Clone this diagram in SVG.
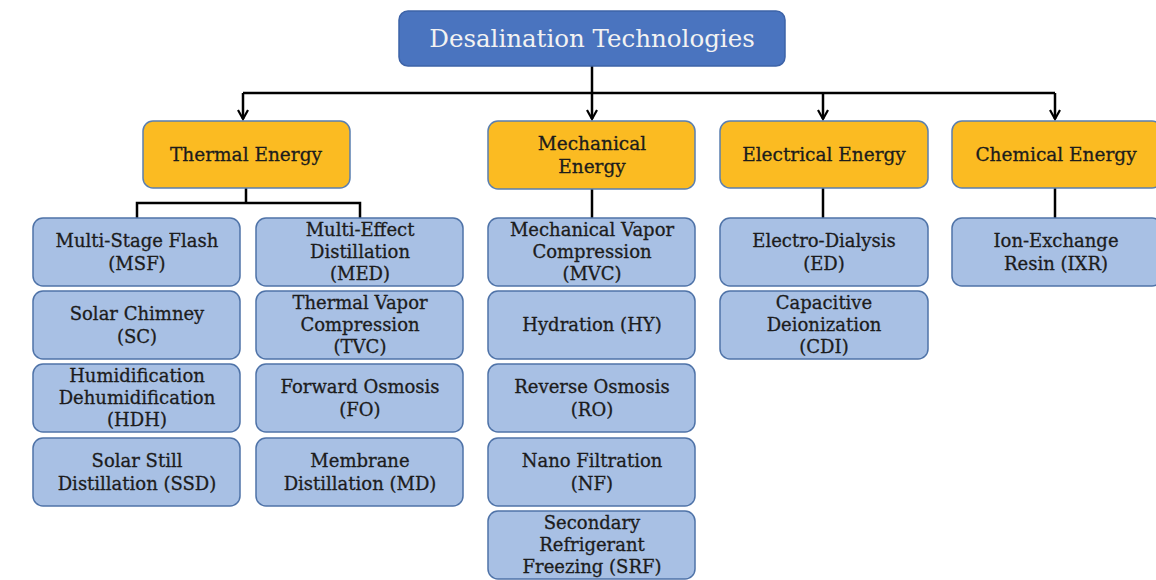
<svg xmlns="http://www.w3.org/2000/svg" width="1156" height="580" viewBox="0 0 1156 580">
<defs>
<style>
.root{fill:#4a74bf;stroke:#3d63a8;stroke-width:1.5}
.cat{fill:#fbbb22;stroke:#5a7fb0;stroke-width:1.5}
.leaf{fill:#a8c0e4;stroke:#4f73a8;stroke-width:1.5}
text{font-family:"DejaVu Serif","Liberation Serif",serif;text-anchor:middle;fill:#1c1c1c;stroke:#1c1c1c;stroke-width:0.3;font-size:18px}
.tt{fill:#f2f2f2;stroke:none;font-size:24.5px}
.ct{font-size:18.5px}
.ln{stroke:#000;stroke-width:2.5;fill:none}
</style>
<marker id="ah" markerWidth="12" markerHeight="12" refX="10" refY="6" orient="auto" markerUnits="userSpaceOnUse" viewBox="0 0 12 12">
<path d="M1,1 L10,6 L1,11" fill="none" stroke="#000" stroke-width="2.2"/>
</marker>
</defs>
<rect width="1156" height="580" fill="#fff"/>
<g id="connectors">
<path class="ln" d="M592,66 V93"/>
<path class="ln" d="M243,93 H1055"/>
<path class="ln" d="M243,93 V119" marker-end="url(#ah)"/>
<path class="ln" d="M592,93 V119" marker-end="url(#ah)"/>
<path class="ln" d="M823,93 V119" marker-end="url(#ah)"/>
<path class="ln" d="M1055,93 V119" marker-end="url(#ah)"/>
<path class="ln" d="M246,188 V203 M137,218 V203 H360 V218"/>
<path class="ln" d="M592,189 V218"/>
<path class="ln" d="M823,188 V218"/>
<path class="ln" d="M1055,188 V218"/>
</g>
<g id="root"><rect class="root" x="399" y="11" width="386" height="55" rx="9"/><text class="tt" x="592" y="47">Desalination Technologies</text></g>
<g id="thermal"><rect class="cat" x="143" y="121" width="207" height="67" rx="10"/><text class="ct" x="246" y="161">Thermal Energy</text></g>
<g id="mechanical"><rect class="cat" x="488" y="121" width="207" height="68" rx="10"/><text class="ct" x="592" y="150">Mechanical</text><text class="ct" x="592" y="173">Energy</text></g>
<g id="electrical"><rect class="cat" x="720" y="121" width="208" height="67" rx="10"/><text class="ct" x="824" y="161">Electrical Energy</text></g>
<g id="chemical"><rect class="cat" x="952" y="121" width="210" height="67" rx="10"/><text class="ct" x="1056" y="161">Chemical Energy</text></g>

<g id="msf"><rect class="leaf" x="33" y="218" width="207" height="68" rx="10"/><text x="137" y="247">Multi-Stage Flash</text><text x="137" y="270">(MSF)</text></g>
<g id="sc"><rect class="leaf" x="33" y="291" width="207" height="68" rx="10"/><text x="137" y="320">Solar Chimney</text><text x="137" y="343">(SC)</text></g>
<g id="hdh"><rect class="leaf" x="33" y="364" width="207" height="68" rx="10"/><text x="137" y="382">Humidification</text><text x="137" y="404">Dehumidification</text><text x="137" y="426">(HDH)</text></g>
<g id="ssd"><rect class="leaf" x="33" y="438" width="207" height="68" rx="10"/><text x="137" y="467">Solar Still</text><text x="137" y="490">Distillation (SSD)</text></g>

<g id="med"><rect class="leaf" x="256" y="218" width="207" height="68" rx="10"/><text x="360" y="236">Multi-Effect</text><text x="360" y="258">Distillation</text><text x="360" y="280">(MED)</text></g>
<g id="tvc"><rect class="leaf" x="256" y="291" width="207" height="68" rx="10"/><text x="360" y="309">Thermal Vapor</text><text x="360" y="331">Compression</text><text x="360" y="353">(TVC)</text></g>
<g id="fo"><rect class="leaf" x="256" y="364" width="207" height="68" rx="10"/><text x="360" y="393">Forward Osmosis</text><text x="360" y="416">(FO)</text></g>
<g id="md"><rect class="leaf" x="256" y="438" width="207" height="68" rx="10"/><text x="360" y="467">Membrane</text><text x="360" y="490">Distillation (MD)</text></g>

<g id="mvc"><rect class="leaf" x="488" y="218" width="207" height="68" rx="10"/><text x="592" y="236">Mechanical Vapor</text><text x="592" y="258">Compression</text><text x="592" y="280">(MVC)</text></g>
<g id="hy"><rect class="leaf" x="488" y="291" width="207" height="68" rx="10"/><text x="592" y="331">Hydration (HY)</text></g>
<g id="ro"><rect class="leaf" x="488" y="364" width="207" height="68" rx="10"/><text x="592" y="393">Reverse Osmosis</text><text x="592" y="416">(RO)</text></g>
<g id="nf"><rect class="leaf" x="488" y="438" width="207" height="68" rx="10"/><text x="592" y="467">Nano Filtration</text><text x="592" y="490">(NF)</text></g>
<g id="srf"><rect class="leaf" x="488" y="511" width="207" height="68" rx="10"/><text x="592" y="529">Secondary</text><text x="592" y="551">Refrigerant</text><text x="592" y="573">Freezing (SRF)</text></g>

<g id="ed"><rect class="leaf" x="720" y="218" width="208" height="68" rx="10"/><text x="824" y="247">Electro-Dialysis</text><text x="824" y="270">(ED)</text></g>
<g id="cdi"><rect class="leaf" x="720" y="291" width="208" height="68" rx="10"/><text x="824" y="309">Capacitive</text><text x="824" y="331">Deionization</text><text x="824" y="353">(CDI)</text></g>

<g id="ixr"><rect class="leaf" x="952" y="218" width="210" height="68" rx="10"/><text x="1056" y="247">Ion-Exchange</text><text x="1056" y="270">Resin (IXR)</text></g>
</svg>
